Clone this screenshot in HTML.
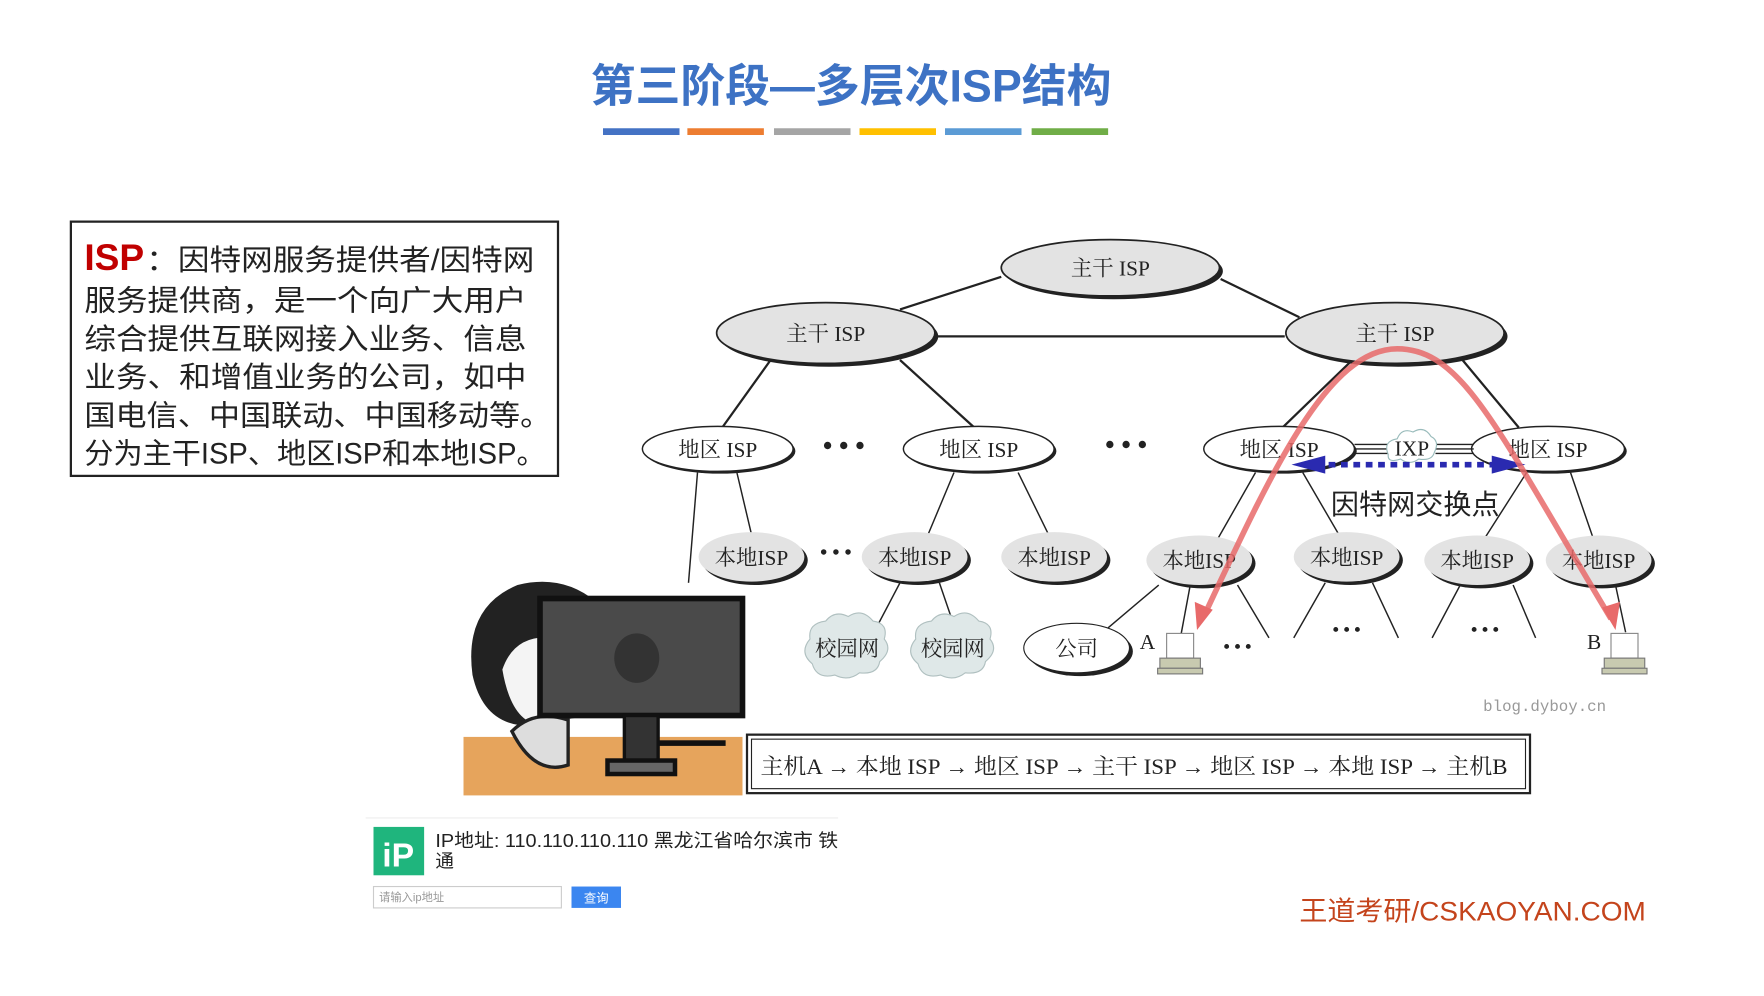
<!DOCTYPE html>
<html><head><meta charset="utf-8"><style>
html,body{margin:0;padding:0;background:#fff;width:1764px;height:996px;overflow:hidden}
svg{display:block}
.s{font-family:"Liberation Serif","Noto Serif CJK SC",serif}
.k{font-family:"Liberation Sans","Noto Sans CJK SC",sans-serif}
</style></head><body>
<svg width="1764" height="996" viewBox="0 0 1568 885.3" preserveAspectRatio="none" xmlns="http://www.w3.org/2000/svg">
<!-- title -->
<text x="525" y="90" textLength="463" lengthAdjust="spacingAndGlyphs" class="k" font-size="40" font-weight="bold" fill="#3d72c4">第三阶段—多层次ISP结构</text>
<rect x="536" y="114" width="68" height="6" fill="#4472c4"/>
<rect x="611" y="114" width="68" height="6" fill="#ed7d31"/>
<rect x="688" y="114" width="68" height="6" fill="#a5a5a5"/>
<rect x="764" y="114" width="68" height="6" fill="#ffc000"/>
<rect x="840" y="114" width="68" height="6" fill="#5b9bd5"/>
<rect x="917" y="114" width="68" height="6" fill="#70ad47"/>
<!-- text box -->
<rect x="63" y="197" width="433" height="226" fill="#fff" stroke="#222" stroke-width="2"/>
<g class="k" font-size="26" fill="#222">
<text x="75" y="240" font-size="33" fill="#c00000" font-weight="bold">ISP</text>
<text x="130" y="240" textLength="345" lengthAdjust="spacingAndGlyphs">：因特网服务提供者/因特网</text>
<text x="75" y="276" textLength="393" lengthAdjust="spacingAndGlyphs">服务提供商，是一个向广大用户</text>
<text x="75" y="310" textLength="393" lengthAdjust="spacingAndGlyphs">综合提供互联网接入业务、信息</text>
<text x="75" y="344" textLength="393" lengthAdjust="spacingAndGlyphs">业务、和增值业务的公司，如中</text>
<text x="75" y="378" textLength="415" lengthAdjust="spacingAndGlyphs">国电信、中国联动、中国移动等。</text>
<text x="75" y="412" textLength="410" lengthAdjust="spacingAndGlyphs">分为主干ISP、地区ISP和本地ISP。</text>
</g>
<!-- connectors -->
<g stroke="#222" stroke-width="2" fill="none">
<line x1="800" y1="275" x2="890" y2="246"/>
<line x1="1085" y1="248" x2="1155" y2="282"/>
<line x1="832" y1="299" x2="1142" y2="299"/>
<line x1="685" y1="320" x2="642" y2="380"/>
<line x1="800" y1="320" x2="866" y2="380"/>
<line x1="1200" y1="322" x2="1140" y2="380"/>
<line x1="1300" y1="320" x2="1350" y2="380"/>
</g>
<g stroke="#222" stroke-width="1.3" fill="none">
<line x1="620" y1="420" x2="612" y2="518"/>
<line x1="655" y1="420" x2="668" y2="475"/>
<line x1="848" y1="420" x2="825" y2="475"/>
<line x1="905" y1="420" x2="932" y2="475"/>
<line x1="1116" y1="420" x2="1083" y2="478"/>
<line x1="1158" y1="420" x2="1190" y2="475"/>
<line x1="1357" y1="420" x2="1320" y2="478"/>
<line x1="1396" y1="420" x2="1416" y2="478"/>
<line x1="800" y1="518" x2="780" y2="556"/>
<line x1="835" y1="518" x2="848" y2="556"/>
<line x1="1030" y1="520" x2="985" y2="558"/>
<line x1="1058" y1="520" x2="1050" y2="563"/>
<line x1="1100" y1="520" x2="1128" y2="567"/>
<line x1="1178" y1="518" x2="1150" y2="567"/>
<line x1="1220" y1="518" x2="1243" y2="567"/>
<line x1="1298" y1="520" x2="1273" y2="567"/>
<line x1="1345" y1="520" x2="1365" y2="567"/>
<line x1="1436" y1="520" x2="1445" y2="562"/>
</g>
<!-- backbone ellipses -->
<g class="s" font-size="19" fill="#222">
<ellipse cx="990" cy="241" rx="97" ry="25" fill="#222"/>
<ellipse cx="987" cy="238" rx="97" ry="25" fill="#e3e3e3" stroke="#222" stroke-width="1.5"/>
<text x="987" y="245" text-anchor="middle">主干 ISP</text>
<ellipse cx="737" cy="299" rx="97" ry="27" fill="#222"/>
<ellipse cx="734" cy="296" rx="97" ry="27" fill="#e3e3e3" stroke="#222" stroke-width="1.5"/>
<text x="734" y="303" text-anchor="middle">主干 ISP</text>
<ellipse cx="1243" cy="299" rx="97" ry="27" fill="#222"/>
<ellipse cx="1240" cy="296" rx="97" ry="27" fill="#e3e3e3" stroke="#222" stroke-width="1.5"/>
<text x="1240" y="303" text-anchor="middle">主干 ISP</text>
</g>
<!-- regional -->
<g class="s" font-size="19" fill="#222">
<ellipse cx="640" cy="401" rx="67" ry="20" fill="#222"/><ellipse cx="638" cy="399" rx="67" ry="20" fill="#fff" stroke="#222" stroke-width="1.3"/><text x="638" y="406" text-anchor="middle">地区 ISP</text>
<ellipse cx="872" cy="401" rx="67" ry="20" fill="#222"/><ellipse cx="870" cy="399" rx="67" ry="20" fill="#fff" stroke="#222" stroke-width="1.3"/><text x="870" y="406" text-anchor="middle">地区 ISP</text>
<ellipse cx="1139" cy="401" rx="67" ry="20" fill="#222"/><ellipse cx="1137" cy="399" rx="67" ry="20" fill="#fff" stroke="#222" stroke-width="1.3"/><text x="1137" y="406" text-anchor="middle">地区 ISP</text>
<ellipse cx="1378" cy="401" rx="68" ry="20" fill="#222"/><ellipse cx="1376" cy="399" rx="68" ry="20" fill="#fff" stroke="#222" stroke-width="1.3"/><text x="1376" y="406" text-anchor="middle">地区 ISP</text>
<text x="750" y="404" text-anchor="middle" font-size="24" font-weight="bold">• • •</text>
<text x="1001" y="403" text-anchor="middle" font-size="24" font-weight="bold">• • •</text>
<g stroke="#222" stroke-width="1.2"><line x1="1204" y1="395" x2="1234" y2="395"/><line x1="1204" y1="399" x2="1234" y2="399"/><line x1="1204" y1="403" x2="1234" y2="403"/>
<line x1="1276" y1="395" x2="1310" y2="395"/><line x1="1276" y1="399" x2="1310" y2="399"/><line x1="1276" y1="403" x2="1310" y2="403"/></g>
<path d="M1234,404 q-5,-12 8,-14 q4,-10 14,-6 q10,-6 16,4 q8,4 3,14 q-2,8 -14,6 q-8,6 -16,0 q-12,4 -11,-4z" fill="#fff" stroke="#9bb" stroke-width="1"/>
<text x="1255" y="405" text-anchor="middle">IXP</text>
<line x1="1170" y1="413" x2="1330" y2="413" stroke="#2a2ab0" stroke-width="5" stroke-dasharray="6,5"/>
<path d="M1148,413 L1178,405 L1178,421Z" fill="#2a2ab0"/>
<path d="M1356,413 L1326,405 L1326,421Z" fill="#2a2ab0"/>
<text x="1258" y="457" text-anchor="middle" class="k" font-size="25">因特网交换点</text>
</g>
<!-- local -->
<g class="s" font-size="19" fill="#222">
<ellipse cx="671" cy="498" rx="47" ry="22" fill="#222"/><ellipse cx="668" cy="495" rx="47" ry="22" fill="#e3e3e3"/><text x="668" y="502" text-anchor="middle">本地ISP</text>
<ellipse cx="816" cy="498" rx="47" ry="22" fill="#222"/><ellipse cx="813" cy="495" rx="47" ry="22" fill="#e3e3e3"/><text x="813" y="502" text-anchor="middle">本地ISP</text>
<ellipse cx="940" cy="498" rx="47" ry="22" fill="#222"/><ellipse cx="937" cy="495" rx="47" ry="22" fill="#e3e3e3"/><text x="937" y="502" text-anchor="middle">本地ISP</text>
<ellipse cx="1069" cy="501" rx="47" ry="22" fill="#222"/><ellipse cx="1066" cy="498" rx="47" ry="22" fill="#e3e3e3"/><text x="1066" y="505" text-anchor="middle">本地ISP</text>
<ellipse cx="1200" cy="498" rx="47" ry="22" fill="#222"/><ellipse cx="1197" cy="495" rx="47" ry="22" fill="#e3e3e3"/><text x="1197" y="502" text-anchor="middle">本地ISP</text>
<ellipse cx="1316" cy="501" rx="47" ry="22" fill="#222"/><ellipse cx="1313" cy="498" rx="47" ry="22" fill="#e3e3e3"/><text x="1313" y="505" text-anchor="middle">本地ISP</text>
<ellipse cx="1424" cy="501" rx="47" ry="22" fill="#222"/><ellipse cx="1421" cy="498" rx="47" ry="22" fill="#e3e3e3"/><text x="1421" y="505" text-anchor="middle">本地ISP</text>
<text x="743" y="497" text-anchor="middle" font-size="18" font-weight="bold">• • •</text>
<path d="M722,590 q-12,-10 -2,-22 q-2,-14 14,-16 q8,-10 20,-4 q12,-8 22,4 q14,2 10,16 q8,10 -4,20 q-2,12 -18,10 q-10,8 -22,2 q-16,4 -20,-10z" fill="#dfe8e8" stroke="#b0c0c0"/>
<text x="753" y="583" text-anchor="middle">校园网</text>
<path d="M816,590 q-12,-10 -2,-22 q-2,-14 14,-16 q8,-10 20,-4 q12,-8 22,4 q14,2 10,16 q8,10 -4,20 q-2,12 -18,10 q-10,8 -22,2 q-16,4 -20,-10z" fill="#dfe8e8" stroke="#b0c0c0"/>
<text x="847" y="583" text-anchor="middle">校园网</text>
<ellipse cx="960" cy="579" rx="47" ry="22" fill="#222"/><ellipse cx="957" cy="576" rx="47" ry="22" fill="#fff" stroke="#222"/><text x="957" y="583" text-anchor="middle">公司</text>
<text x="1020" y="577" text-anchor="middle">A</text>
<text x="1417" y="577" text-anchor="middle">B</text>
<text x="1100" y="580" text-anchor="middle" font-size="16" font-weight="bold">• • •</text>
<text x="1197" y="565" text-anchor="middle" font-size="16" font-weight="bold">• • •</text>
<text x="1320" y="565" text-anchor="middle" font-size="16" font-weight="bold">• • •</text>
</g>
<g fill="#c8cab0" stroke="#777" stroke-width="1">
<rect x="1037" y="563" width="24" height="22" fill="#fff" stroke="#888"/><rect x="1031" y="585" width="36" height="9"/><rect x="1029" y="594" width="40" height="5"/>
<rect x="1432" y="563" width="24" height="22" fill="#fff" stroke="#888"/><rect x="1426" y="585" width="36" height="9"/><rect x="1424" y="594" width="40" height="5"/>
</g>
<path d="M1070,548 C1130,420 1180,310 1242,310 C1300,310 1330,380 1432,550" fill="none" stroke="#e86a6a" stroke-opacity="0.85" stroke-width="5"/>
<path d="M1064,560 L1062,535 L1078,542Z" fill="#e86a6a"/>
<path d="M1436,560 L1424,540 L1440,535Z" fill="#e86a6a"/>
<text x="1373" y="632" text-anchor="middle" font-family="Liberation Mono,monospace" font-size="14" fill="#999">blog.dyboy.cn</text>
<!-- path box -->
<rect x="664" y="653" width="696" height="52" fill="#fff" stroke="#222" stroke-width="2"/>
<rect x="668" y="657" width="688" height="44" fill="none" stroke="#222" stroke-width="1"/>
<text x="676" y="688" textLength="664" lengthAdjust="spacingAndGlyphs" class="s" font-size="19.5" fill="#222">主机A → 本地 ISP → 地区 ISP → 主干 ISP → 地区 ISP → 本地 ISP → 主机B</text>
<!-- meme -->
<rect x="412" y="655" width="248" height="52" fill="#e6a45c"/>
<path d="M420,600 q-8,-60 40,-80 q40,-10 70,15 l0,100 l-60,10 q-40,0 -50,-45z" fill="#222"/>
<path d="M445,595 q10,-30 40,-30 l10,80 q-40,10 -50,-50z" fill="#f4f4f4" stroke="#222" stroke-width="3"/>
<path d="M455,650 q20,-20 50,-10 l0,40 q-30,10 -50,-30z" fill="#ddd" stroke="#222" stroke-width="3"/>
<rect x="480" y="532" width="180" height="104" fill="#4a4a4a" stroke="#111" stroke-width="5"/>
<ellipse cx="566" cy="585" rx="20" ry="22" fill="#333"/>
<rect x="555" y="636" width="30" height="40" fill="#333" stroke="#111" stroke-width="3"/>
<rect x="540" y="676" width="60" height="12" fill="#666" stroke="#111" stroke-width="4"/>
<rect x="585" y="658" width="60" height="5" fill="#111"/>
<!-- IP widget -->
<line x1="325" y1="727" x2="745" y2="727" stroke="#eee"/>
<rect x="332" y="735" width="45" height="43" fill="#1fb57d"/>
<text x="354" y="770" text-anchor="middle" class="k" font-size="30" font-weight="bold" fill="#fff">iP</text>
<text x="387" y="753" textLength="358" lengthAdjust="spacingAndGlyphs" class="k" font-size="16.5" fill="#222">IP地址: 110.110.110.110 黑龙江省哈尔滨市 铁</text>
<text x="387" y="771" class="k" font-size="16.5" fill="#222">通</text>
<rect x="332" y="788" width="167" height="19" fill="#fff" stroke="#ccc"/>
<text x="337" y="801" class="k" font-size="10" fill="#999">请输入ip地址</text>
<rect x="508" y="788" width="44" height="19" fill="#3b86f0"/>
<text x="530" y="802" text-anchor="middle" class="k" font-size="11" fill="#fff">查询</text>
<text x="1463" y="818" text-anchor="end" class="k" font-size="24" fill="#c4441c" textLength="308" lengthAdjust="spacingAndGlyphs">王道考研/CSKAOYAN.COM</text>
</svg>
</body></html>
